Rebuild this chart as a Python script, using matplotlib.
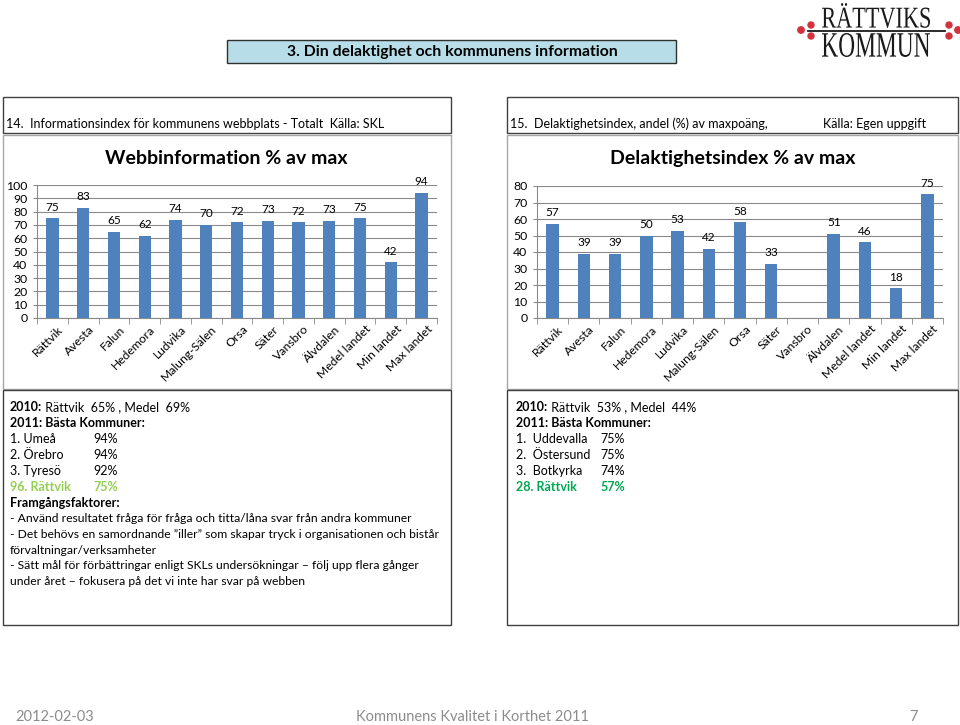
import numpy as np
import matplotlib
matplotlib.use("Agg")
import matplotlib.pyplot as plt
from matplotlib.patches import Rectangle, PathPatch, Circle
from matplotlib.textpath import TextPath
from matplotlib.font_manager import FontProperties
from matplotlib.transforms import Affine2D, offset_copy

plt.rcParams["font.family"] = ["Lato", "DejaVu Sans"]

# DATA -----------------------------------------------------------------------
categories = ["Rättvik", "Avesta", "Falun", "Hedemora", "Ludvika", "Malung-Sälen",
              "Orsa", "Säter", "Vansbro", "Älvdalen", "Medel landet", "Min landet",
              "Max landet"]
web_values = [75, 83, 65, 62, 74, 70, 72, 73, 72, 73, 75, 42, 94]
delak_values = [57, 39, 39, 50, 53, 42, 58, 33, np.nan, 51, 46, 18, 75]

web_title = "Webbinformation % av max"
delak_title = "Delaktighetsindex % av max"

left_lines = [
    ("2010:", " Rättvik  65% , Medel  69%"),
    ("2011: Bästa Kommuner:", ""),
]
left_rank = [("1. Umeå", "94%"), ("2. Örebro", "94%"), ("3. Tyresö", "92%")]
left_own = ("96. Rättvik", "75%")
left_bullets = [
    "- Använd resultatet fråga för fråga och titta/låna svar från andra kommuner",
    "- Det behövs en samordnande \u201diller\u201d som skapar tryck i organisationen och bistår",
    "förvaltningar/verksamheter",
    "- Sätt mål för förbättringar enligt SKLs undersökningar \u2013 följ upp flera gånger",
    "under året \u2013 fokusera på det vi inte har svar på webben",
]
right_lines = [
    ("2010:", " Rättvik  53% , Medel  44%"),
    ("2011: Bästa Kommuner:", ""),
]
right_rank = [("1.  Uddevalla", "75%"), ("2.  Östersund", "75%"), ("3.  Botkyrka", "74%")]
right_own = ("28. Rättvik", "57%")

BAR = "#4f81bd"
W, H = 960, 725

fig = plt.figure(figsize=(W / 100, H / 100), dpi=100)
bg = fig.add_axes([0, 0, 1, 1])
bg.set_xlim(0, W)
bg.set_ylim(H, 0)
bg.axis("off")


def box(x0, y0, x1, y1, ec="#404040", fc="none", lw=1.0):
    bg.add_patch(Rectangle((x0, y0), x1 - x0, y1 - y0, facecolor=fc, edgecolor=ec, linewidth=lw))


# title banner
box(227, 40, 676, 63, fc="#b7dde8", ec="#303030")
bg.text(452, 52, "3. Din delaktighet och kommunens information", ha="center", va="center",
        fontsize=11.3, fontweight="bold")

# logo
serif = FontProperties(family="Liberation Serif")


def stretched(text, x0, x1, ytop, ybot):
    tp = TextPath((0, 0), text, size=1, prop=serif)
    ext = tp.get_extents()
    sx = (x1 - x0) / ext.width
    sy = (ybot - ytop) / ext.height
    tr = Affine2D().translate(-ext.x0, -ext.y0).scale(sx, -sy).translate(x0, ybot)
    bg.add_patch(PathPatch(tr.transform_path(tp), facecolor="#1a1a1a", edgecolor="none"))


stretched("RÄTTVIKS", 822, 930, 3, 28)
stretched("KOMMUN", 822, 930, 33, 57)
bg.plot([808, 945], [30.5, 30.5], color="#1a1a1a", lw=1.3)
for cx, cy, r in [(801, 30, 3.2), (811, 25, 3.0), (811, 36, 3.0),
                  (949, 25, 3.0), (949, 36, 3.0), (958, 30, 3.2)]:
    bg.add_patch(Circle((cx, cy), r, color="#d2323c"))

# panel frames
for x0, x1 in [(3, 451), (507, 958)]:
    box(x0, 97, x1, 133)
    box(x0, 135, x1, 389, ec="#a6a6a6")
    box(x0, 390, x1, 625)

bg.text(6, 124, "14.  Informationsindex för kommunens webbplats - Totalt  Källa: SKL",
        va="center", fontsize=9)
bg.text(510, 124, "15.  Delaktighetsindex, andel (%) av maxpoäng,", va="center", fontsize=9)
bg.text(823, 124, "Källa: Egen uppgift", va="center", fontsize=9)


def bar_chart(rect, values, ymax, title, title_x):
    x0, ytop, x1, ybot = rect
    ax = fig.add_axes([x0 / W, 1 - ybot / H, (x1 - x0) / W, (ybot - ytop) / H])
    x = np.arange(len(values))
    ax.bar(x, values, width=0.4, color=BAR, zorder=3)
    for xi, v in zip(x, values):
        if not np.isnan(v):
            ax.annotate(f"{v:.0f}", (xi, v), xytext=(0, 4), textcoords="offset points",
                        ha="center", va="bottom", fontsize=8.5)
    ax.set_xlim(-0.5, len(values) - 0.5)
    ax.set_ylim(0, ymax)
    ax.set_yticks(np.arange(0, ymax + 1, 10))
    ax.grid(axis="y", color="#8a8a8a", lw=0.8, zorder=0)
    for s in ["top", "right"]:
        ax.spines[s].set_visible(False)
    for s in ["left", "bottom"]:
        ax.spines[s].set_color("#8a8a8a")
    ax.tick_params(axis="y", labelsize=8.8, length=3, color="#8a8a8a", pad=4)
    ax.set_xticks(x)
    ax.set_xticks(np.arange(-0.5, len(values), 1), minor=True)
    ax.tick_params(axis="x", which="major", length=0, pad=4)
    ax.tick_params(axis="x", which="minor", length=4, color="#8a8a8a")
    ax.set_xticklabels(categories, rotation=45, ha="right", rotation_mode="anchor", fontsize=8.7)
    for lab in ax.get_xticklabels():
        lab.set_transform(offset_copy(lab.get_transform(), fig=fig, x=5, y=0, units="dots"))
    bg.text(title_x, 158, title, ha="center", va="center", fontsize=14, fontweight="bold")
    return ax


bar_chart((37, 185, 437, 318), web_values, 100, web_title, 226)
bar_chart((537, 186, 943, 318), delak_values, 80, delak_title, 733)


def text_block(x, xcol, lines, rank, own, own_color, bullets=None):
    y = 407
    step = 16
    for bold, rest in lines:
        t = bg.text(x, y, bold, va="center", fontsize=9, fontweight="bold")
        if rest:
            bg.annotate(rest, xycoords=t, xy=(1, 0.5), va="center", fontsize=9)
        y += step
    for name, pct in rank:
        bg.text(x, y, name, va="center", fontsize=9)
        bg.text(xcol, y, pct, va="center", fontsize=9)
        y += step
    bg.text(x, y, own[0], va="center", fontsize=9, fontweight="bold", color=own_color)
    bg.text(xcol, y, own[1], va="center", fontsize=9, fontweight="bold", color=own_color)
    y += step
    if bullets:
        bg.text(x, y, "Framgångsfaktorer:", va="center", fontsize=9, fontweight="bold")
        y += step
        for line in bullets:
            bg.text(x, y, line, va="center", fontsize=8.7)
            y += 15.6


text_block(10, 93, left_lines, left_rank, left_own, "#92d050", left_bullets)
text_block(516, 600, right_lines, right_rank, right_own, "#00a651")

# footer
bg.text(15, 717, "2012-02-03", va="center", fontsize=10.5, color="#8c8c8c")
bg.text(472, 717, "Kommunens Kvalitet i Korthet 2011", ha="center", va="center",
        fontsize=10.5, color="#8c8c8c")
bg.text(913, 717, "7", ha="center", va="center", fontsize=10.5, color="#8c8c8c")

fig.savefig("out.png", dpi=100)
